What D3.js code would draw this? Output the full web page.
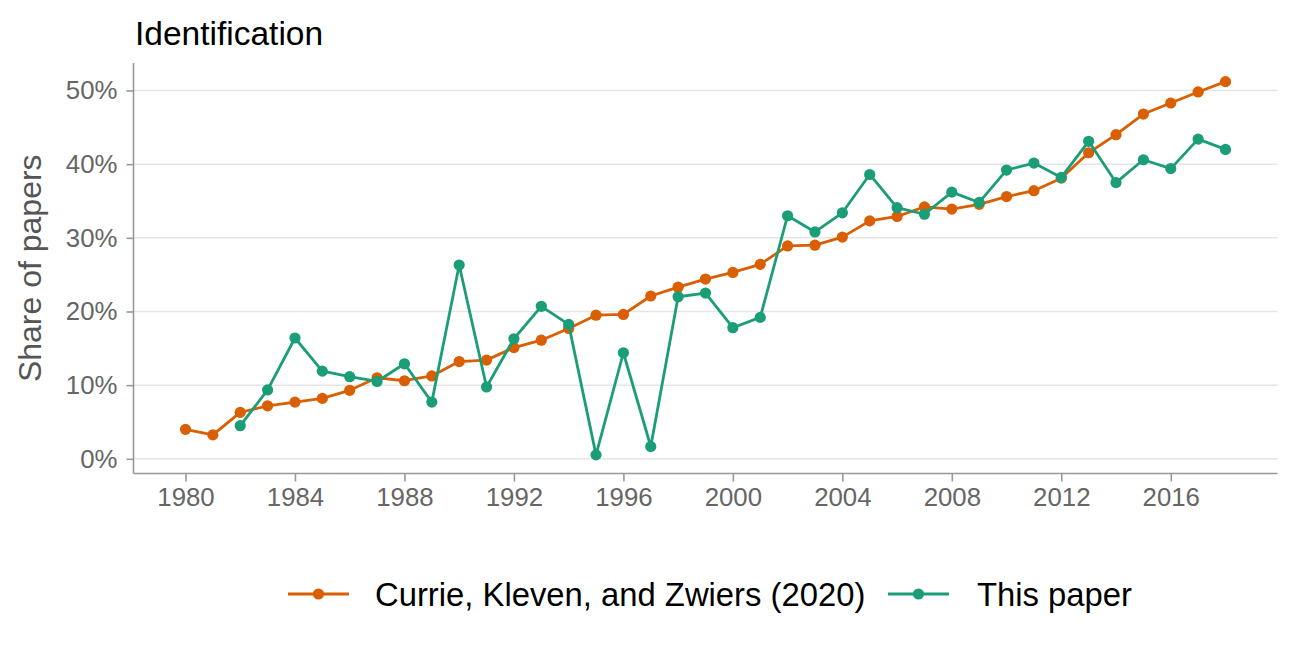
<!DOCTYPE html>
<html>
<head>
<meta charset="utf-8">
<script src="https://cdn.jsdelivr.net/npm/d3@7"></script>
<style>
  html, body { margin: 0; padding: 0; background: #fff; }
  svg { display: block; font-family: "Liberation Sans", Arial, sans-serif; }
</style>
</head>
<body>
<svg id="chart" width="1296" height="648"></svg>
<script>
const years = d3.range(1980, 2019);
const seriesNames = ["Currie, Kleven, and Zwiers (2020)", "This paper"];
const seriesColors = ["#D95F02", "#1B9E77"];
const ckzValues = [4.0, 3.25, 6.3, 7.2, 7.7, 8.2, 9.3, 11.0, 10.6, 11.25,
  13.2, 13.4, 15.1, 16.1, 17.7, 19.5, 19.6, 22.1, 23.3, 24.4,
  25.3, 26.4, 28.9, 29.0, 30.1, 32.3, 32.9, 34.2, 33.9, 34.55,
  35.6, 36.4, 38.1, 41.55, 44.0, 46.8, 48.3, 49.8, 51.2];
const thisPaperValues = [null, null, 4.5, 9.35, 16.4, 11.9, 11.15, 10.5, 12.9, 7.7,
  26.3, 9.75, 16.3, 20.7, 18.25, 0.54, 14.4, 1.67, 22.0, 22.5,
  17.8, 19.2, 33.0, 30.8, 33.4, 38.6, 34.1, 33.2, 36.2, 34.8,
  39.2, 40.15, 38.2, 43.1, 37.5, 40.6, 39.4, 43.4, 42.0];
const xTicks = [1980, 1984, 1988, 1992, 1996, 2000, 2004, 2008, 2012, 2016];
const yTicks = [0, 10, 20, 30, 40, 50];
const titleText = "Identification";
const yTitle = "Share of papers";

const svg = d3.select("#chart");
const L = 133.5, R = 1277.5, T = 63, B = 473.5;

const xExt = d3.extent(years), xPad = (xExt[1] - xExt[0]) * 0.05;
const allVals = ckzValues.concat(thisPaperValues).filter(v => v != null);
const yExt = d3.extent(allVals), yPad = (yExt[1] - yExt[0]) * 0.05;

const x = d3.scaleLinear().domain([xExt[0] - xPad, xExt[1] + xPad]).range([L, R]);
const y = d3.scaleLinear().domain([yExt[0] - yPad, yExt[1] + yPad]).range([B, T]);

// gridlines
svg.append("g").selectAll("line").data(yTicks).join("line")
  .attr("x1", L).attr("x2", R)
  .attr("y1", d => y(d)).attr("y2", d => y(d))
  .attr("stroke", "#e5e5e5").attr("stroke-width", 1.5);

// axes
const yAxis = svg.append("g").attr("transform", `translate(${L},0)`)
  .call(d3.axisLeft(y).tickValues(yTicks).tickFormat(d => d + "%").tickSize(7).tickPadding(9).tickSizeOuter(0));
const xAxis = svg.append("g").attr("transform", `translate(0,${B})`)
  .call(d3.axisBottom(x).tickValues(xTicks).tickFormat(d3.format("d")).tickSize(8).tickPadding(6).tickSizeOuter(0));
[yAxis, xAxis].forEach(g => {
  g.select(".domain").attr("stroke", "#999").attr("stroke-width", 1.6);
  g.selectAll(".tick line").attr("stroke", "#999").attr("stroke-width", 1.6);
  g.selectAll(".tick text").attr("fill", "#666").style("font-size", "25.8px")
    .style("font-family", "'Liberation Sans', Arial, sans-serif");
});
yAxis.select(".domain").attr("d", `M0,${T}V${B}`);
xAxis.select(".domain").attr("d", `M${L},0H${R}`);

// series
const series = [ckzValues, thisPaperValues];
const line = d3.line().defined(d => d.v != null).x(d => x(d.year)).y(d => y(d.v));
series.forEach((vals, i) => {
  const pts = years.map((yr, j) => ({ year: yr, v: vals[j] }));
  svg.append("path").datum(pts).attr("d", line)
    .attr("fill", "none").attr("stroke", seriesColors[i]).attr("stroke-width", 2.8)
    .attr("stroke-linejoin", "round");
  svg.append("g").selectAll("circle").data(pts.filter(d => d.v != null)).join("circle")
    .attr("cx", d => x(d.year)).attr("cy", d => y(d.v)).attr("r", 5.6)
    .attr("fill", seriesColors[i]);
});

// title
svg.append("text").attr("x", 135).attr("y", 45).text(titleText)
  .attr("fill", "#000").style("font-size", "33.5px");

// y title
svg.append("text").attr("transform", `translate(41,${(T + B) / 2}) rotate(-90)`)
  .attr("text-anchor", "middle").text(yTitle)
  .attr("fill", "#555").style("font-size", "32px");

// legend
const legendItems = [
  { x0: 288, tx: 375 },
  { x0: 888, tx: 977 }
];
const ly = 594;
legendItems.forEach((it, i) => {
  const g = svg.append("g");
  g.append("line").attr("x1", it.x0).attr("x2", it.x0 + 61).attr("y1", ly).attr("y2", ly)
    .attr("stroke", seriesColors[i]).attr("stroke-width", 2.8);
  g.append("circle").attr("cx", it.x0 + 30.5).attr("cy", ly).attr("r", 5.6).attr("fill", seriesColors[i]);
  g.append("text").attr("x", it.tx).attr("y", ly + 12).text(seriesNames[i])
    .attr("fill", "#000").style("font-size", "32.8px");
});
</script>
</body>
</html>
